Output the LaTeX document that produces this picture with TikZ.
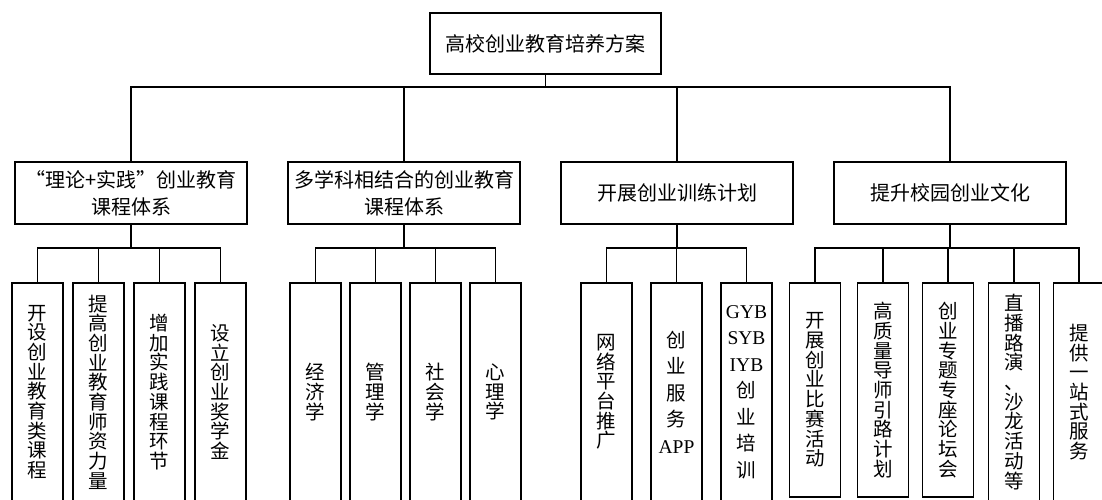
\documentclass[tikz,border=0pt]{standalone}
\usepackage{fontspec}
\setmainfont{Liberation Serif}
\newfontfamily\cjk{Noto Sans CJK SC}
\usetikzlibrary{positioning}
\newcommand{\lat}[1]{{\rmfamily #1}}

\begin{document}
\begin{tikzpicture}[
	x = 1pt, y = 1pt, % one unit per pixel
	node distance = 10pt, % gap between leaf boxes
	line width = 1.2pt, % line style
	T/.style={rectangle, draw=black, inner sep=0pt, outer sep=0pt, minimum width=231pt, minimum height=61pt, font=\cjk\fontsize{20}{24}\selectfont},
	M/.style={rectangle, draw=black, inner sep=0pt, outer sep=0pt, minimum width=232pt, minimum height=62pt, align=center, font=\cjk\fontsize{20}{27}\selectfont},
	L/.style={rectangle, draw=black, inner sep=0pt, outer sep=0pt, minimum width=51pt, minimum height=218pt, anchor=north, align=center, font=\cjk\fontsize{19.5}{19.7}\selectfont},
	short/.style={minimum height=214pt}, % bottom edge visible
	spread/.style={font=\cjk\fontsize{19.5}{26.5}\selectfont},
	]
	\useasboundingbox (0,0) rectangle (1102,-499);

	% Root and the four branches
	\node[T] (R) at (545.5,-43.5) {高校创业教育培养方案};
	\node[M] (A) at (131,-193) {“理论+实践”创业教育\\课程体系};
	\node[M] (B) [right = 41pt of A] {多学科相结合的创业教育\\课程体系};
	\node[M] (C) [right = 41pt of B] {开展创业训练计划};
	\node[M] (D) [right = 41pt of C] {提升校园创业文化};

	% Leaves of A
	\node[L] (A1) at (37.5,-283) {开\\设\\创\\业\\教\\育\\类\\课\\程};
	\node[L] (A2) [right = of A1] {提\\高\\创\\业\\教\\育\\师\\资\\力\\量};
	\node[L] (A3) [right = of A2] {增\\加\\实\\践\\课\\程\\环\\节};
	\node[L] (A4) [right = of A3] {设\\立\\创\\业\\奖\\学\\金};

	% Leaves of B
	\node[L] (B1) at (315.5,-283) {经\\济\\学};
	\node[L] (B2) [right = 9pt of B1] {管\\理\\学};
	\node[L] (B3) [right = 9pt of B2] {社\\会\\学};
	\node[L] (B4) [right = 9pt of B3] {心\\理\\学};

	% Leaves of C
	\node[L] (C1) at (606.5,-283) {网\\络\\平\\台\\推\\广};
	\node[L, spread] (C2) [right = 19pt of C1] {创\\业\\服\\务\\\lat{APP}};
	\node[L, spread] (C3) [right = 19pt of C2] {\lat{GYB}\\\lat{SYB}\\\lat{IYB}\\创\\业\\培\\训};

	% Leaves of D
	\node[L, short] (D1) at (815,-283) {开\\展\\创\\业\\比\\赛\\活\\动};
	\node[L, short] (D2) [right = 17pt of D1] {高\\质\\量\\导\\师\\引\\路\\计\\划};
	\node[L, short] (D3) [right = 14pt of D2] {创\\业\\专\\题\\专\\座\\论\\坛\\会};
	\node[L] (D4) [right = 15pt of D3.north east, anchor=north west] {直\\播\\路\\演\\、\\沙\\龙\\活\\动\\等};
	\node[L] (D5) [right = 14pt of D4] {提\\供\\一\\站\\式\\服\\务};

	% Paths connecting nodes
	\foreach \m in {A,B,C,D}
		\draw (R.south) -- ++(0,-13) -| (\m.north);
	\foreach \l in {A1,A2,A3,A4}
		\draw (A.south) -- ++(0,-24) -| (\l.north);
	\foreach \l in {B1,B2,B3,B4}
		\draw (B.south) -- ++(0,-24) -| (\l.north);
	\foreach \l in {C1,C2,C3}
		\draw (C.south) -- ++(0,-24) -| (\l.north);
	\foreach \l in {D1,D2,D3,D4,D5}
		\draw (D.south) -- ++(0,-24) -| (\l.north);
\end{tikzpicture}
\end{document}
